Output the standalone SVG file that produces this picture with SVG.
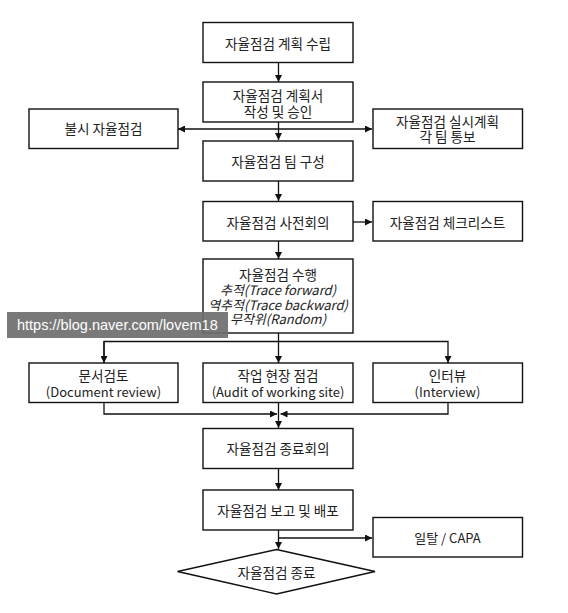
<svg xmlns="http://www.w3.org/2000/svg" width="568" height="613" viewBox="0 0 568 613">
<style>
.b{fill:#fff;stroke:#111;stroke-width:1.4}
.t{font-family:"Malgun Gothic","Noto Sans CJK KR","Noto Sans",sans-serif;font-size:13px;fill:#222;text-anchor:middle;dominant-baseline:central}
.k{font-size:13.6px}
.i{font-style:italic}
.c{fill:none;stroke:#111;stroke-width:1.3}
.w{font-family:"Liberation Sans",Arial,sans-serif;font-size:14.5px;fill:#fff}
</style>
<defs>
<marker id="a" viewBox="0 0 10 10" refX="10" refY="5" markerWidth="7" markerHeight="7" markerUnits="userSpaceOnUse" orient="auto"><path d="M0,0L10,5L0,10z" fill="#111"/></marker>
</defs>
<rect width="568" height="613" fill="#fff"/>
<g id="connectors">
<path class="c" d="M278.5,63V82" marker-end="url(#a)"/>
<path class="c" d="M278.5,122V140" marker-end="url(#a)"/>
<path class="c" d="M278.5,129H178" marker-end="url(#a)"/>
<path class="c" d="M278.5,129H372" marker-end="url(#a)"/>
<path class="c" d="M278.5,181V201" marker-end="url(#a)"/>
<path class="c" d="M353,222H372" marker-end="url(#a)"/>
<path class="c" d="M278.5,241V259" marker-end="url(#a)"/>
<path class="c" d="M278.5,333V363" marker-end="url(#a)"/>
<path class="c" d="M104,363V341.5H448V363" marker-end="url(#a)"/>
<path class="c" d="M104,341.5V363" marker-end="url(#a)"/>
<path class="c" d="M104,403V414H277" marker-end="url(#a)"/>
<path class="c" d="M448,403V414H280.5" marker-end="url(#a)"/>
<path class="c" d="M278.5,403V428" marker-end="url(#a)"/>
<path class="c" d="M278.5,469V490" marker-end="url(#a)"/>
<path class="c" d="M278.5,530V549" marker-end="url(#a)"/>
<path class="c" d="M278.5,538H372" marker-end="url(#a)"/>
</g>
<g id="n1"><rect class="b" x="203" y="22.5" width="150" height="40"/><text class="t k" x="278" y="43">자율점검 계획 수립</text></g>
<g id="n2"><rect class="b" x="203" y="82" width="150" height="40"/><text class="t k" x="278" y="95">자율점검 계획서</text><text class="t k" x="278" y="110.5">작성 및 승인</text></g>
<g id="n3"><rect class="b" x="29" y="109" width="149" height="39.5"/><text class="t k" x="103.5" y="128">불시 자율점검</text></g>
<g id="n4"><rect class="b" x="373" y="109" width="149.5" height="39.5"/><text class="t k" x="447.5" y="120.5">자율점검 실시계획</text><text class="t k" x="447.5" y="136">각 팀 통보</text></g>
<g id="n5"><rect class="b" x="203" y="141" width="150" height="40"/><text class="t k" x="278" y="161">자율점검 팀 구성</text></g>
<g id="n6"><rect class="b" x="203" y="201.5" width="150" height="39.5"/><text class="t k" x="278" y="221.5">자율점검 사전회의</text></g>
<g id="n7"><rect class="b" x="373" y="201.5" width="149.5" height="39.5"/><text class="t k" x="447.5" y="221.5">자율점검 체크리스트</text></g>
<g id="n8"><rect class="b" x="203" y="259" width="150" height="74"/><text class="t k" x="278" y="273.5">자율점검 수행</text><text class="t i" x="278" y="289">추적(Trace forward)</text><text class="t i" x="278" y="304">역추적(Trace backward)</text><text class="t i" x="278" y="318.5">무작위(Random)</text></g>
<g id="n9"><rect class="b" x="29" y="363" width="149" height="39.5"/><text class="t k" x="103.5" y="374.5">문서검토</text><text class="t" x="103.5" y="391.5">(Document review)</text></g>
<g id="n10"><rect class="b" x="203" y="363" width="150" height="39.5"/><text class="t k" x="278" y="374.5">작업 현장 점검</text><text class="t" x="278" y="391.5">(Audit of working site)</text></g>
<g id="n11"><rect class="b" x="373" y="363" width="149.5" height="39.5"/><text class="t k" x="447.5" y="374.5">인터뷰</text><text class="t" x="447.5" y="391.5">(Interview)</text></g>
<g id="n12"><rect class="b" x="203" y="428.5" width="150" height="40"/><text class="t k" x="278" y="448">자율점검 종료회의</text></g>
<g id="n13"><rect class="b" x="203" y="490" width="150" height="40"/><text class="t k" x="278" y="509.5">자율점검 보고 및 배포</text></g>
<g id="n14"><rect class="b" x="373" y="517.5" width="149.5" height="39.5"/><text class="t" x="447.5" y="537">일탈 / CAPA</text></g>
<g id="n15"><polygon class="b" points="276.5,549.5 375,571.5 276.5,594 177.5,571.5"/><text class="t k" x="276.5" y="572">자율점검 종료</text></g>
<g id="watermark"><rect x="7" y="312" width="221" height="26" fill="#6e6e6e" opacity="0.92"/><text class="w" x="17" y="330">https://blog.naver.com/lovem18</text></g>
</svg>
